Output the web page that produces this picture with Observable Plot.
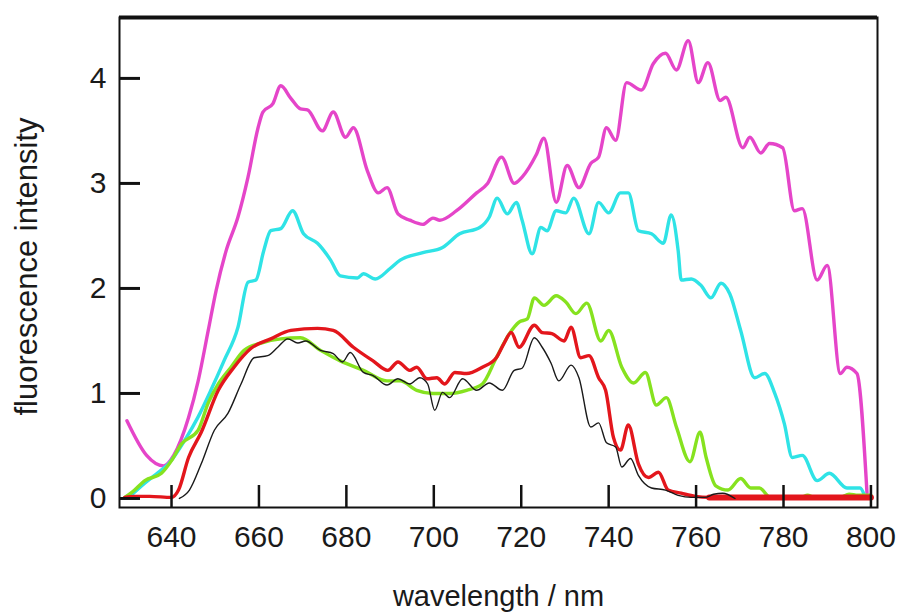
<!DOCTYPE html>
<html>
<head>
<meta charset="utf-8">
<script src="https://cdn.jsdelivr.net/npm/d3@7"></script>
<script src="https://cdn.jsdelivr.net/npm/@observablehq/plot@0.6"></script>
<style>
  html, body { margin: 0; padding: 0; background: #fff; }
  #chart svg { display: block; }
</style>
</head>
<body>
<div id="chart"></div>
<script>
// ---- data ----
const xTicks = [640, 660, 680, 700, 720, 740, 760, 780, 800];
const yTicks = [0, 1, 2, 3, 4];
const xLabel = "wavelength / nm";
const yLabel = "fluorescence intensity";

const magentaX = [629.8,634.3,638.2,640.5,643.9,646.1,648.4,650.2,652.5,655.2,657.5,659.8,660.9,663.2,665,667.3,669.5,671.1,674.5,677,679.8,681.6,684.8,687.3,689.3,691.8,694.5,697.5,699.8,701.4,705.2,709.8,712.3,715.5,718.4,720.2,723.4,725.2,728,730.5,733.2,735.9,737.7,739.5,741.6,744.1,747.5,750.2,753,755.5,758.2,760.5,762.7,765.5,766.8,770.7,772.3,774.8,776.8,779.8,782.5,784.3,787.7,790,793,794.5,796.8,799.1];
const magentaY = [0.74,0.41,0.31,0.41,0.77,1.12,1.6,1.98,2.36,2.68,3.06,3.53,3.68,3.76,3.93,3.81,3.71,3.70,3.50,3.68,3.44,3.53,3.12,2.91,2.96,2.71,2.65,2.61,2.67,2.65,2.74,2.91,3.0,3.25,3.0,3.06,3.27,3.43,2.82,3.17,2.96,3.19,3.25,3.53,3.41,3.96,3.89,4.14,4.24,4.08,4.36,3.96,4.15,3.79,3.82,3.34,3.44,3.29,3.38,3.34,2.74,2.76,2.08,2.22,1.19,1.25,1.19,0.05];

const cyanX = [630.5,634,637,639.3,643.4,646,649,652,655.2,657.5,659.3,661.1,662.7,665,667.7,670.2,673.4,676.4,678.6,682.5,683.9,686.6,690,692.3,697.5,702,705.9,710.5,712.7,714.5,716.8,718.9,720.2,722.5,724.5,725.9,728,730.2,732,735.5,737.7,740,742.7,744.5,746.8,749.8,752.5,754.3,755.9,756.6,758.9,761.1,763.4,765.7,767.7,770.2,773.4,775.7,778,780.2,782,784.3,787.7,790.5,794.5,797.5,798.6];
const cyanY = [0.02,0.15,0.25,0.33,0.58,0.77,1.03,1.31,1.63,2.06,2.08,2.36,2.55,2.57,2.74,2.52,2.43,2.27,2.12,2.1,2.14,2.09,2.19,2.27,2.34,2.39,2.52,2.58,2.68,2.86,2.71,2.82,2.65,2.33,2.58,2.55,2.74,2.72,2.86,2.52,2.82,2.72,2.91,2.91,2.55,2.52,2.43,2.7,2.36,2.08,2.09,2.03,1.91,2.05,1.95,1.6,1.15,1.19,1.0,0.71,0.39,0.41,0.17,0.24,0.1,0.1,0.02];

const greenX = [629.3,631,633.9,637.7,640,642.3,646.1,648.4,650.7,653.6,656.6,660.5,665,669.5,674.1,678.6,683.9,689.3,692.3,696.1,699.8,703.6,707.5,711.1,714.3,717.3,719.5,721.4,723,725.2,728,730.2,732.5,735,738.2,740,743,745.7,748.4,750.9,753.2,755.5,758.6,760.9,762.3,764.5,767.3,770.2,772.5,774.5,777,784,785.5,787,793,795,797,800];
const greenY = [0.01,0.06,0.17,0.24,0.36,0.52,0.65,0.91,1.09,1.25,1.41,1.48,1.52,1.53,1.41,1.31,1.22,1.12,1.12,1.03,1.0,1.0,1.03,1.09,1.34,1.57,1.68,1.71,1.91,1.84,1.93,1.87,1.76,1.86,1.5,1.6,1.25,1.1,1.2,0.89,0.96,0.68,0.35,0.63,0.39,0.12,0.08,0.19,0.1,0.1,0.01,0.01,0.03,0.01,0.01,0.04,0.03,0.03];

const redX = [629.3,631.6,635,640,641.6,643.9,646.8,650.7,654.3,658.2,662.7,667.3,673.4,677,681.6,686.1,689.5,691.8,694.5,696.1,698.4,700.7,702.5,704.8,707.5,711.1,714.3,716.1,717.7,719.5,723,724.8,727,729.8,731.4,733.6,735.5,737.7,739.3,741.1,742.7,744.5,746.8,749.1,751.4,753.6,756.6,759.8,763,800];
const redY = [0.01,0.02,0.02,0.01,0.08,0.39,0.63,1.03,1.25,1.43,1.52,1.6,1.62,1.6,1.44,1.31,1.22,1.3,1.22,1.25,1.14,1.15,1.09,1.2,1.19,1.25,1.34,1.48,1.58,1.44,1.65,1.58,1.57,1.5,1.63,1.34,1.36,1.15,1.03,0.58,0.46,0.7,0.33,0.2,0.25,0.08,0.05,0.02,0.01,0.01];
const redTailX = [763, 800];
const redTailY = [0.01, 0.01];

const blackX = [641.8,644.1,646.8,649.8,652.9,655.9,658.9,662,664.3,666.6,668.9,670.7,674.1,677,679.1,680.9,683.9,686.1,689.3,691.8,694.5,696.8,698.6,700.2,702,703.6,706.6,709.8,712.7,715.7,718.4,720.2,723,724.8,726.8,728.6,731.4,733.2,735.9,737.7,739.5,741.6,743,745,746.8,749.8,753,755.9,758.9,762,764,766.1,768.9];
const blackY = [0,0.08,0.33,0.65,0.81,1.09,1.34,1.36,1.44,1.52,1.48,1.5,1.41,1.38,1.3,1.39,1.2,1.17,1.08,1.14,1.09,1.15,1.09,0.84,1.01,0.96,1.14,1.03,1.1,1.03,1.22,1.24,1.53,1.44,1.29,1.12,1.27,1.15,0.68,0.72,0.53,0.49,0.3,0.38,0.22,0.1,0.08,0.03,0.01,0.01,0.04,0.05,0];

const xDomain = [628.1, 801.5];
const yDomain = [-0.086, 4.58];

// ---- build ----
const zip = (xs, ys) => xs.map((x, i) => ({x, y: ys[i]}));
const FONT = "'Liberation Sans', Arial, Helvetica, sans-serif";
const W = 897, H = 615;
const mL = 119, mR = 20, mT = 17, mB = 108;
const frameW = W - mL - mR, frameH = H - mT - mB;

const lineOpts = (color, w) => ({x: "x", y: "y", stroke: color, strokeWidth: w, curve: "monotone-x", strokeLinejoin: "round", strokeLinecap: "round"});

const chart = Plot.plot({
  width: W,
  height: H,
  marginLeft: mL,
  marginRight: mR,
  marginTop: mT,
  marginBottom: mB,
  style: {fontFamily: FONT, color: "#1a1a1a", background: "#fff", overflow: "visible"},
  x: {domain: xDomain, axis: null},
  y: {domain: yDomain, axis: null},
  marks: [
    Plot.line(zip(magentaX, magentaY), lineOpts("#e545c9", 3.4)),
    Plot.line(zip(cyanX, cyanY), lineOpts("#2fe3e6", 3.4)),
    Plot.line(zip(greenX, greenY), lineOpts("#86e21f", 3.4)),
    Plot.line(zip(redX, redY), lineOpts("#e3161c", 3.4)),
    Plot.line(zip(redTailX, redTailY), lineOpts("#e3161c", 6)),
    Plot.line(zip(blackX, blackY), lineOpts("#1a1a1a", 1.4)),
    Plot.frame({stroke: "#111", strokeWidth: 2}),
    Plot.ruleY([yDomain[1]], {stroke: "#111", strokeWidth: 4}),
    Plot.tickY(yTicks, {y: d => d, stroke: "#111", strokeWidth: 3, insetRight: frameW - 21}),
    Plot.tickX(xTicks, {x: d => d, stroke: "#111", strokeWidth: 2.5, insetTop: frameH - 22}),
    Plot.axisY(yTicks, {tickSize: 0, tickPadding: 13, fontSize: 30, tickFormat: d => String(d), label: null, fill: "#1a1a1a"}),
    Plot.axisX(xTicks, {tickSize: 0, tickPadding: 18, fontSize: 30, tickFormat: d => String(d), label: null, fill: "#1a1a1a"}),
    Plot.text([xLabel], {text: d => d, frameAnchor: "bottom", lineAnchor: "middle", textAnchor: "middle", dy: 89, fontSize: 29, fill: "#1a1a1a"}),
    Plot.text([yLabel], {text: d => d, frameAnchor: "left", lineAnchor: "middle", textAnchor: "middle", dx: -92, dy: 4, rotate: -90, fontSize: 31, fill: "#1a1a1a"})
  ]
});
document.getElementById("chart").appendChild(chart);
</script>
</body>
</html>
